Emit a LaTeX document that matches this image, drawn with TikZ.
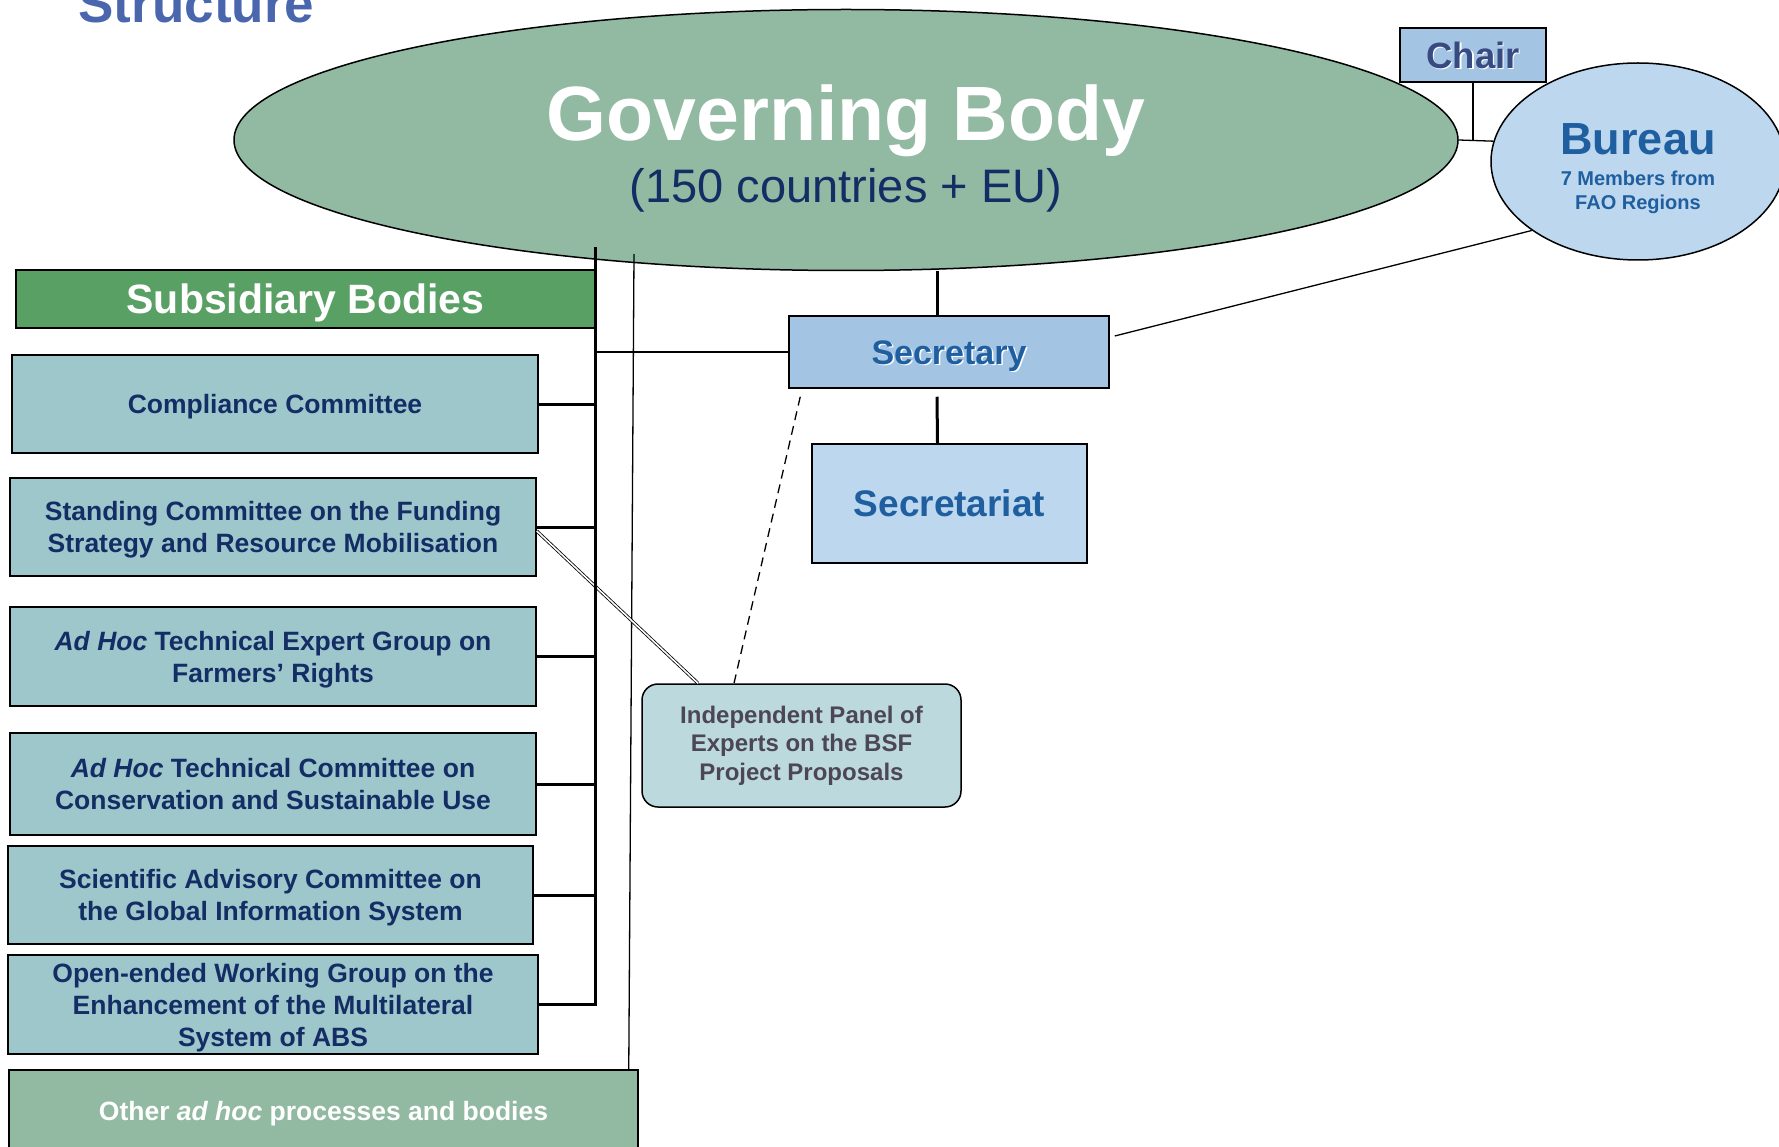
\documentclass[tikz,border=0pt]{standalone}
\usepackage{fontspec}
\setmainfont{Liberation Sans}
\usetikzlibrary{shapes.geometric}
\definecolor{gbgreen}{RGB}{146,185,162}
\definecolor{subgreen}{RGB}{89,160,101}
\definecolor{boxteal}{RGB}{158,199,204}
\definecolor{panelteal}{RGB}{188,218,221}
\definecolor{midblue}{RGB}{163,196,226}
\definecolor{paleblue}{RGB}{189,215,238}
\definecolor{navy}{RGB}{20,45,100}
\definecolor{textblue}{RGB}{31,95,160}
\definecolor{chairblue}{RGB}{55,75,130}
\definecolor{titleblue}{RGB}{74,102,173}
\definecolor{panelgrey}{RGB}{77,70,85}
\newcommand\fs[2]{\fontsize{#1}{#2}\selectfont}
\newcommand\shadowed[1]{\rlap{\hspace{1.5pt}\raisebox{-1.5pt}{\color{white}#1}}#1}
\begin{document}
\begin{tikzpicture}[x=1pt,y=-1pt,
  subbox/.style={draw,line width=1.5pt,fill=boxteal,text=navy,font=\bfseries\fs{26.5}{32},align=center,inner sep=0pt,minimum height=98pt,text depth=0pt},
  oneline/.style={text height=19pt},
  bluebox/.style={draw,line width=1.5pt,inner sep=0pt,font=\bfseries,text=textblue,text depth=0pt},
  bus/.style={line width=3pt},
  link/.style={line width=1.3pt}]

\useasboundingbox (0,0) rectangle (1779,1147);

\node [anchor=base west,text=titleblue,font=\bfseries\fs{53}{60}] (title) at (75,23) {Structure};

\node [ellipse,draw,line width=1.5pt,fill=gbgreen,minimum width=1224pt,minimum height=261pt,inner sep=0pt] (gb) at (846,140) {};
\node [anchor=base,text=white,font=\bfseries\fs{77}{80}] (gbname) at (846,141) {Governing Body};
\node [anchor=base,text=navy,font=\fs{47}{50}] (gbsize) at (846,203) {(150 countries + EU)};

\node [bluebox,fill=midblue,text=chairblue,minimum width=146pt,minimum height=54pt,font=\bfseries\fs{36.5}{40},text height=26.2pt] (chair) at (1473,55) {\shadowed{Chair}};

\node [ellipse,draw,line width=1.5pt,fill=paleblue,minimum width=294pt,minimum height=197pt,inner sep=0pt] (bureau) at (1638,161.5) {};
\node [anchor=base,text=textblue,font=\bfseries\fs{45}{48}] (bureauname) at (1638,155) {Bureau};
\node [text=textblue,font=\bfseries\fs{20}{24},align=center,inner sep=0pt] (bureaumembers) at (1638,192) {7 Members from\\FAO Regions};

\node [bluebox,fill=midblue,minimum width=320pt,minimum height=72pt,font=\bfseries\fs{34}{36},text height=24.3pt] (secretary) at (949,352) {\shadowed{Secretary}};
\node [bluebox,fill=paleblue,minimum width=275pt,minimum height=119pt,font=\bfseries\fs{37}{40},text height=26.5pt] (secretariat) at (949.5,503.5) {Secretariat};

\node [draw,line width=1.5pt,fill=subgreen,text=white,font=\bfseries\fs{41}{44},minimum width=579pt,minimum height=58pt,inner sep=0pt,text height=29.4pt,text depth=0pt] (subhead) at (305.5,299) {Subsidiary Bodies};

\node [subbox,oneline,minimum width=526pt] (comp) at (275,404) {Compliance Committee};
\node [subbox,minimum width=526pt] (fund) at (273,527) {Standing Committee on the Funding\\Strategy and Resource Mobilisation};
\node [subbox,minimum width=526pt,minimum height=99pt] (rights) at (273,656.5) {\textit{Ad Hoc} Technical Expert Group on\\Farmers’ Rights};
\node [subbox,minimum width=526pt,minimum height=102pt] (conserv) at (273,784) {\textit{Ad Hoc} Technical Committee on\\Conservation and Sustainable Use};
\node [subbox,minimum width=525pt] (gis) at (270.5,895) {Scientific Advisory Committee on\\the Global Information System};
\node [subbox,minimum width=530pt,minimum height=99pt] (mls) at (273,1004.5) {Open-ended Working Group on the\\Enhancement of the Multilateral\\System of ABS};
\node [subbox,oneline,fill=gbgreen,text=white,minimum width=629pt,minimum height=82pt] (other) at (323.5,1111) {Other \textit{ad hoc} processes and bodies};

\node [draw,line width=1.5pt,rounded corners=16pt,fill=panelteal,text=panelgrey,font=\bfseries\fs{24}{28.5},align=center,minimum width=319pt,minimum height=123pt,inner sep=0pt] (panel) at (801.5,745.5) {Independent Panel of\\Experts on the BSF\\Project Proposals};

\coordinate (bustop) at (595,247);
\coordinate (othtop) at (634,254);

\draw [link] (othtop) -- ([xshift=-10pt]other.north east);
\draw [double,line width=0.8pt,double distance=1.6pt] ([yshift=-4pt]fund.east) -- ([xshift=-103.5pt]panel.north);
\draw [bus] (bustop) -- (bustop |- mls.east) -- (mls.east);
\foreach \b in {comp,fund,rights,conserv,gis}
  \draw [bus] (\b.east) -- (\b.east -| bustop);
\draw [link] (secretary.west) -- (secretary.west -| bustop);
\draw [bus] ([xshift=-12pt]secretary.north) -- ([xshift=-12pt]secretary.north |- gb.south);
\draw [bus] ([xshift=-12pt,yshift=-8pt]secretary.south) -- ([xshift=-12pt]secretariat.north);
\draw [link,dashed,dash pattern=on 9pt off 6pt] ([xshift=12pt,yshift=-8pt]secretary.south west) -- ([xshift=-67.5pt]panel.north);
\draw [link] (gb.east) -- (bureau.172);
\draw [link] (chair.south) -- (chair.south |- gb.east);
\draw [link] (bureau.213) -- ([xshift=5pt,yshift=16pt]secretary.east);

\end{tikzpicture}
\end{document}
